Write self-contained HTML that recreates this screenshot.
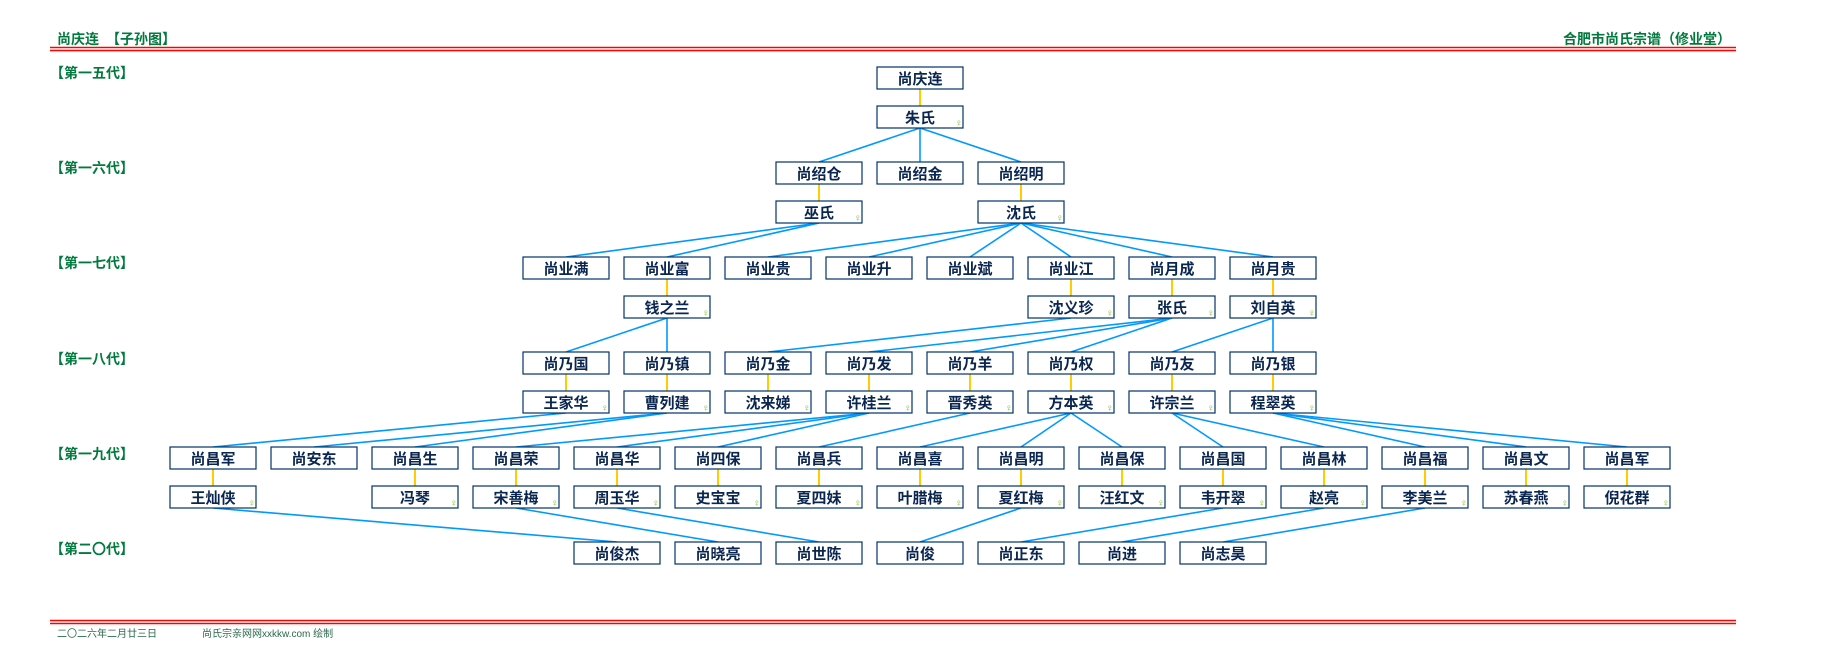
<!DOCTYPE html>
<html><head><meta charset="utf-8"><style>
html,body{margin:0;padding:0;background:#fff;width:1835px;height:670px;overflow:hidden}
svg{display:block}
text{font-family:"Liberation Sans","Noto Sans CJK SC",sans-serif}
.n{font-size:15px;font-weight:600;fill:#0a2650;text-anchor:middle}
.g{font-size:14px;font-weight:bold;fill:#007a3d}
.f{font-size:10px;fill:#2a6a4a}
.s{font-size:10px;fill:#7cbb2a}
rect{fill:#fff;stroke:#003366;stroke-width:1.2}
.b line{stroke:#0099ff;stroke-width:1.6}
.y line{stroke:#ffcc00;stroke-width:2}
</style></head><body>
<svg width="1835" height="670" viewBox="0 0 1835 670">
<text x="57" y="44" class="g">尚庆连　【子孙图】</text>
<text x="1731" y="44" class="g" text-anchor="end">合肥市尚氏宗谱（修业堂）</text>
<line x1="50" y1="47.5" x2="1736" y2="47.5" stroke="#f00" stroke-width="1.5"/>
<line x1="50" y1="50.5" x2="1736" y2="50.5" stroke="#f00" stroke-width="1.5"/>
<line x1="50" y1="620.5" x2="1736" y2="620.5" stroke="#f00" stroke-width="1.5"/>
<line x1="50" y1="623.5" x2="1736" y2="623.5" stroke="#f00" stroke-width="1.5"/>
<text x="57" y="637" class="f">二〇二六年二月廿三日</text>
<text x="202" y="637" class="f">尚氏宗亲网网xxkkw.com 绘制</text>
<text x="50" y="78" class="g">【第一五代】</text>
<text x="50" y="173" class="g">【第一六代】</text>
<text x="50" y="268" class="g">【第一七代】</text>
<text x="50" y="364" class="g">【第一八代】</text>
<text x="50" y="459" class="g">【第一九代】</text>
<text x="50" y="554" class="g">【第二〇代】</text>

<g class="y">
<line x1="920" y1="89" x2="920" y2="106"/>
<line x1="819" y1="184" x2="819" y2="201"/><line x1="1021" y1="184" x2="1021" y2="201"/>
<line x1="667" y1="279" x2="667" y2="296"/><line x1="1071" y1="279" x2="1071" y2="296"/><line x1="1172" y1="279" x2="1172" y2="296"/><line x1="1273" y1="279" x2="1273" y2="296"/>
<line x1="566" y1="374" x2="566" y2="391"/><line x1="667" y1="374" x2="667" y2="391"/><line x1="768" y1="374" x2="768" y2="391"/><line x1="869" y1="374" x2="869" y2="391"/><line x1="970" y1="374" x2="970" y2="391"/><line x1="1071" y1="374" x2="1071" y2="391"/><line x1="1172" y1="374" x2="1172" y2="391"/><line x1="1273" y1="374" x2="1273" y2="391"/>
<line x1="213" y1="469" x2="213" y2="486"/><line x1="415" y1="469" x2="415" y2="486"/><line x1="516" y1="469" x2="516" y2="486"/><line x1="617" y1="469" x2="617" y2="486"/><line x1="718" y1="469" x2="718" y2="486"/><line x1="819" y1="469" x2="819" y2="486"/><line x1="920" y1="469" x2="920" y2="486"/><line x1="1021" y1="469" x2="1021" y2="486"/><line x1="1122" y1="469" x2="1122" y2="486"/><line x1="1223" y1="469" x2="1223" y2="486"/><line x1="1324" y1="469" x2="1324" y2="486"/><line x1="1425" y1="469" x2="1425" y2="486"/><line x1="1526" y1="469" x2="1526" y2="486"/><line x1="1627" y1="469" x2="1627" y2="486"/>
</g>
<g class="b">
<line x1="920" y1="128" x2="819" y2="162"/><line x1="920" y1="128" x2="920" y2="162"/><line x1="920" y1="128" x2="1021" y2="162"/>
<line x1="819" y1="223" x2="566" y2="257"/><line x1="819" y1="223" x2="667" y2="257"/>
<line x1="1021" y1="223" x2="768" y2="257"/><line x1="1021" y1="223" x2="869" y2="257"/><line x1="1021" y1="223" x2="970" y2="257"/><line x1="1021" y1="223" x2="1071" y2="257"/><line x1="1021" y1="223" x2="1172" y2="257"/><line x1="1021" y1="223" x2="1273" y2="257"/>
<line x1="667" y1="318" x2="566" y2="352"/><line x1="667" y1="318" x2="667" y2="352"/>
<line x1="1071" y1="318" x2="768" y2="352"/>
<line x1="1172" y1="318" x2="869" y2="352"/><line x1="1172" y1="318" x2="970" y2="352"/><line x1="1172" y1="318" x2="1071" y2="352"/>
<line x1="1273" y1="318" x2="1172" y2="352"/><line x1="1273" y1="318" x2="1273" y2="352"/>
<line x1="566" y1="413" x2="213" y2="447"/>
<line x1="667" y1="413" x2="314" y2="447"/><line x1="667" y1="413" x2="415" y2="447"/>
<line x1="869" y1="413" x2="516" y2="447"/><line x1="869" y1="413" x2="617" y2="447"/><line x1="869" y1="413" x2="718" y2="447"/>
<line x1="970" y1="413" x2="819" y2="447"/>
<line x1="1071" y1="413" x2="920" y2="447"/><line x1="1071" y1="413" x2="1021" y2="447"/><line x1="1071" y1="413" x2="1122" y2="447"/>
<line x1="1172" y1="413" x2="1223" y2="447"/><line x1="1172" y1="413" x2="1324" y2="447"/>
<line x1="1273" y1="413" x2="1425" y2="447"/><line x1="1273" y1="413" x2="1526" y2="447"/><line x1="1273" y1="413" x2="1627" y2="447"/>
<line x1="213" y1="508" x2="617" y2="542"/><line x1="516" y1="508" x2="718" y2="542"/><line x1="617" y1="508" x2="819" y2="542"/>
<line x1="1021" y1="508" x2="920" y2="542"/><line x1="1223" y1="508" x2="1021" y2="542"/><line x1="1324" y1="508" x2="1122" y2="542"/><line x1="1425" y1="508" x2="1223" y2="542"/>
</g>

<rect x="877" y="67" width="86" height="22"/><text x="920" y="84" class="n">尚庆连</text>
<rect x="877" y="106" width="86" height="22"/><text x="920" y="123" class="n">朱氏</text><text x="955" y="126" class="s">♀</text>
<rect x="776" y="162" width="86" height="22"/><text x="819" y="179" class="n">尚绍仓</text>
<rect x="877" y="162" width="86" height="22"/><text x="920" y="179" class="n">尚绍金</text>
<rect x="978" y="162" width="86" height="22"/><text x="1021" y="179" class="n">尚绍明</text>
<rect x="776" y="201" width="86" height="22"/><text x="819" y="218" class="n">巫氏</text><text x="854" y="221" class="s">♀</text>
<rect x="978" y="201" width="86" height="22"/><text x="1021" y="218" class="n">沈氏</text><text x="1056" y="221" class="s">♀</text>
<rect x="523" y="257" width="86" height="22"/><text x="566" y="274" class="n">尚业满</text>
<rect x="624" y="257" width="86" height="22"/><text x="667" y="274" class="n">尚业富</text>
<rect x="725" y="257" width="86" height="22"/><text x="768" y="274" class="n">尚业贵</text>
<rect x="826" y="257" width="86" height="22"/><text x="869" y="274" class="n">尚业升</text>
<rect x="927" y="257" width="86" height="22"/><text x="970" y="274" class="n">尚业斌</text>
<rect x="1028" y="257" width="86" height="22"/><text x="1071" y="274" class="n">尚业江</text>
<rect x="1129" y="257" width="86" height="22"/><text x="1172" y="274" class="n">尚月成</text>
<rect x="1230" y="257" width="86" height="22"/><text x="1273" y="274" class="n">尚月贵</text>
<rect x="624" y="296" width="86" height="22"/><text x="667" y="313" class="n">钱之兰</text><text x="702" y="316" class="s">♀</text>
<rect x="1028" y="296" width="86" height="22"/><text x="1071" y="313" class="n">沈义珍</text><text x="1106" y="316" class="s">♀</text>
<rect x="1129" y="296" width="86" height="22"/><text x="1172" y="313" class="n">张氏</text><text x="1207" y="316" class="s">♀</text>
<rect x="1230" y="296" width="86" height="22"/><text x="1273" y="313" class="n">刘自英</text><text x="1308" y="316" class="s">♀</text>
<rect x="523" y="352" width="86" height="22"/><text x="566" y="369" class="n">尚乃国</text>
<rect x="624" y="352" width="86" height="22"/><text x="667" y="369" class="n">尚乃镇</text>
<rect x="725" y="352" width="86" height="22"/><text x="768" y="369" class="n">尚乃金</text>
<rect x="826" y="352" width="86" height="22"/><text x="869" y="369" class="n">尚乃发</text>
<rect x="927" y="352" width="86" height="22"/><text x="970" y="369" class="n">尚乃羊</text>
<rect x="1028" y="352" width="86" height="22"/><text x="1071" y="369" class="n">尚乃权</text>
<rect x="1129" y="352" width="86" height="22"/><text x="1172" y="369" class="n">尚乃友</text>
<rect x="1230" y="352" width="86" height="22"/><text x="1273" y="369" class="n">尚乃银</text>
<rect x="523" y="391" width="86" height="22"/><text x="566" y="408" class="n">王家华</text><text x="601" y="411" class="s">♀</text>
<rect x="624" y="391" width="86" height="22"/><text x="667" y="408" class="n">曹列建</text><text x="702" y="411" class="s">♀</text>
<rect x="725" y="391" width="86" height="22"/><text x="768" y="408" class="n">沈来娣</text><text x="803" y="411" class="s">♀</text>
<rect x="826" y="391" width="86" height="22"/><text x="869" y="408" class="n">许桂兰</text><text x="904" y="411" class="s">♀</text>
<rect x="927" y="391" width="86" height="22"/><text x="970" y="408" class="n">晋秀英</text><text x="1005" y="411" class="s">♀</text>
<rect x="1028" y="391" width="86" height="22"/><text x="1071" y="408" class="n">方本英</text><text x="1106" y="411" class="s">♀</text>
<rect x="1129" y="391" width="86" height="22"/><text x="1172" y="408" class="n">许宗兰</text><text x="1207" y="411" class="s">♀</text>
<rect x="1230" y="391" width="86" height="22"/><text x="1273" y="408" class="n">程翠英</text><text x="1308" y="411" class="s">♀</text>
<rect x="170" y="447" width="86" height="22"/><text x="213" y="464" class="n">尚昌军</text>
<rect x="271" y="447" width="86" height="22"/><text x="314" y="464" class="n">尚安东</text>
<rect x="372" y="447" width="86" height="22"/><text x="415" y="464" class="n">尚昌生</text>
<rect x="473" y="447" width="86" height="22"/><text x="516" y="464" class="n">尚昌荣</text>
<rect x="574" y="447" width="86" height="22"/><text x="617" y="464" class="n">尚昌华</text>
<rect x="675" y="447" width="86" height="22"/><text x="718" y="464" class="n">尚四保</text>
<rect x="776" y="447" width="86" height="22"/><text x="819" y="464" class="n">尚昌兵</text>
<rect x="877" y="447" width="86" height="22"/><text x="920" y="464" class="n">尚昌喜</text>
<rect x="978" y="447" width="86" height="22"/><text x="1021" y="464" class="n">尚昌明</text>
<rect x="1079" y="447" width="86" height="22"/><text x="1122" y="464" class="n">尚昌保</text>
<rect x="1180" y="447" width="86" height="22"/><text x="1223" y="464" class="n">尚昌国</text>
<rect x="1281" y="447" width="86" height="22"/><text x="1324" y="464" class="n">尚昌林</text>
<rect x="1382" y="447" width="86" height="22"/><text x="1425" y="464" class="n">尚昌福</text>
<rect x="1483" y="447" width="86" height="22"/><text x="1526" y="464" class="n">尚昌文</text>
<rect x="1584" y="447" width="86" height="22"/><text x="1627" y="464" class="n">尚昌军</text>
<rect x="170" y="486" width="86" height="22"/><text x="213" y="503" class="n">王灿侠</text><text x="248" y="506" class="s">♀</text>
<rect x="372" y="486" width="86" height="22"/><text x="415" y="503" class="n">冯琴</text><text x="450" y="506" class="s">♀</text>
<rect x="473" y="486" width="86" height="22"/><text x="516" y="503" class="n">宋善梅</text><text x="551" y="506" class="s">♀</text>
<rect x="574" y="486" width="86" height="22"/><text x="617" y="503" class="n">周玉华</text><text x="652" y="506" class="s">♀</text>
<rect x="675" y="486" width="86" height="22"/><text x="718" y="503" class="n">史宝宝</text><text x="753" y="506" class="s">♀</text>
<rect x="776" y="486" width="86" height="22"/><text x="819" y="503" class="n">夏四妹</text><text x="854" y="506" class="s">♀</text>
<rect x="877" y="486" width="86" height="22"/><text x="920" y="503" class="n">叶腊梅</text><text x="955" y="506" class="s">♀</text>
<rect x="978" y="486" width="86" height="22"/><text x="1021" y="503" class="n">夏红梅</text><text x="1056" y="506" class="s">♀</text>
<rect x="1079" y="486" width="86" height="22"/><text x="1122" y="503" class="n">汪红文</text><text x="1157" y="506" class="s">♀</text>
<rect x="1180" y="486" width="86" height="22"/><text x="1223" y="503" class="n">韦开翠</text><text x="1258" y="506" class="s">♀</text>
<rect x="1281" y="486" width="86" height="22"/><text x="1324" y="503" class="n">赵亮</text><text x="1359" y="506" class="s">♀</text>
<rect x="1382" y="486" width="86" height="22"/><text x="1425" y="503" class="n">李美兰</text><text x="1460" y="506" class="s">♀</text>
<rect x="1483" y="486" width="86" height="22"/><text x="1526" y="503" class="n">苏春燕</text><text x="1561" y="506" class="s">♀</text>
<rect x="1584" y="486" width="86" height="22"/><text x="1627" y="503" class="n">倪花群</text><text x="1662" y="506" class="s">♀</text>
<rect x="574" y="542" width="86" height="22"/><text x="617" y="559" class="n">尚俊杰</text>
<rect x="675" y="542" width="86" height="22"/><text x="718" y="559" class="n">尚晓亮</text>
<rect x="776" y="542" width="86" height="22"/><text x="819" y="559" class="n">尚世陈</text>
<rect x="877" y="542" width="86" height="22"/><text x="920" y="559" class="n">尚俊</text>
<rect x="978" y="542" width="86" height="22"/><text x="1021" y="559" class="n">尚正东</text>
<rect x="1079" y="542" width="86" height="22"/><text x="1122" y="559" class="n">尚进</text>
<rect x="1180" y="542" width="86" height="22"/><text x="1223" y="559" class="n">尚志昊</text>
</svg>
</body></html>
